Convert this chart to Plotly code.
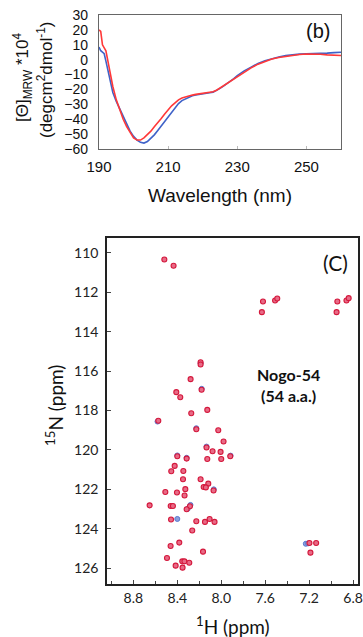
import plotly.graph_objects as go

# ---------------- CD spectra (panel b) ----------------
wl_red = [190, 190.5, 191, 192, 193, 194, 195, 196, 197, 198, 199, 200, 201, 202, 203, 204, 205, 206, 207, 208,
          209, 210, 211, 212, 213, 214, 215, 216, 217, 218, 219, 220, 221, 222, 223, 224, 225, 226, 227, 228,
          229, 230, 232, 234, 236, 238, 240, 242, 244, 246, 248, 250, 252, 254, 256, 258, 260]
cd_red = [20, 19, 10, 6, -6, -18, -27, -34, -40, -45, -49, -52.5, -54, -54, -52.5, -50.5, -48, -45, -42.5, -39.5,
          -36.5, -33.5, -31, -29, -27, -25.8, -25, -24.3, -23.8, -23.3, -23, -22.8, -22.5, -22.2, -21.5, -20.5, -19, -17.5, -16, -14.3,
          -12.7, -11, -8, -5.5, -3, -1, 0.5, 1.5, 2.3, 3, 3.5, 3.8, 3.8, 3.6, 3.2, 3, 2.8]

wl_blue = [190, 190.5, 191, 191.5, 192, 193, 194, 195, 196, 197, 198, 199, 200, 201, 202, 203, 204, 205, 206, 207,
           208, 209, 210, 211, 212, 213, 214, 215, 216, 217, 218, 219, 220, 221, 222, 223, 224, 225, 226, 227,
           228, 229, 230, 232, 234, 236, 238, 240, 242, 244, 246, 248, 250, 252, 254, 256, 258, 260]
cd_blue = [8.5, 6, 5, 4, -1, -12, -22, -28, -33, -38, -43, -48, -51.5, -54, -55.5, -56, -55, -53, -50.5, -47.5,
           -44.5, -41, -38, -35, -32, -29.5, -27.5, -26.3, -25.2, -24.3, -23.7, -23.2, -22.8, -22.5, -22.2, -21.8, -20.8, -19.3, -17.8, -16.2,
           -14.5, -12.7, -10.7, -7.5, -5, -2.5, -0.7, 0.7, 1.8, 2.7, 3.3, 3.7, 4, 4, 4.2, 4.4, 4.7, 5]

cd_yticks = [30, 20, 10, 0, -10, -20, -30, -40, -50, -60]
cd_xticks = [190, 210, 230, 250]

# ---------------- HSQC peaks (panel c) ----------------
red_H = [8.518, 8.434, 7.62, 7.63, 7.51, 7.49, 6.943, 6.95, 6.86, 6.84,
         8.188, 8.188, 8.279, 8.179, 8.409, 8.373, 8.127, 8.273, 8.573,
         8.227, 8.027, 7.979, 8.134, 8.079, 8.006, 7.918, 8.4, 8.315, 8.127, 8.0, 8.424, 8.455, 8.345,
         8.348, 8.188, 8.118, 8.16, 8.14, 8.07, 8.509, 8.403, 8.327, 8.334, 8.652, 8.46, 8.44, 8.285,
         8.315, 8.457, 8.227, 8.148, 8.106, 8.061, 8.264, 8.382, 8.461, 8.166, 8.494, 8.355, 8.335,
         8.291, 8.415, 8.352, 7.197, 7.136, 7.188]
red_N = [110.34, 110.66, 112.47, 113.01, 112.42, 112.32, 112.47, 113.01, 112.42, 112.3,
         115.55, 115.67, 116.41, 116.95, 117.07, 117.33, 117.97, 118.14, 118.52,
         118.95, 119.0, 119.57, 119.88, 120.07, 120.1, 120.32, 120.32, 120.44, 120.46, 120.46, 120.81, 121.08, 121.07,
         121.49, 121.49, 121.71, 121.88, 121.9, 122.06, 122.13, 122.16, 121.99, 122.31, 122.81, 122.84, 122.84, 122.86,
         123.01, 123.53, 123.62, 123.65, 123.5, 123.65, 124.09, 124.7, 124.87, 125.16, 125.48, 125.65, 125.65,
         125.72, 125.87, 125.97, 124.72, 124.72, 125.21]

blue_H = [8.58, 8.227, 8.134, 7.915, 8.40, 8.28, 8.068, 8.178, 8.40, 8.305, 7.23, 7.21, 8.188, 8.315]
blue_N = [118.56, 118.90, 119.83, 120.29, 120.28, 122.79, 122.0, 116.90, 123.50, 122.98, 124.76, 124.74, 115.6, 120.40]

nmr_xticks = [8.8, 8.4, 8.0, 7.6, 7.2, 6.8]
nmr_yticks = [110, 112, 114, 116, 118, 120, 122, 124, 126]

W, H = 363, 637
fig = go.Figure()

fig.add_trace(go.Scatter(x=wl_blue, y=cd_blue, mode="lines", line=dict(color="#3f62c8", width=1.6),
                         xaxis="x", yaxis="y", showlegend=False))
fig.add_trace(go.Scatter(x=wl_red, y=cd_red, mode="lines", line=dict(color="#ff3838", width=1.6),
                         xaxis="x", yaxis="y", showlegend=False))

fig.add_trace(go.Scatter(x=blue_H, y=blue_N, mode="markers",
                         marker=dict(symbol="circle", size=5, color="#8aa0dc", line=dict(color="#5a78d0", width=1)),
                         xaxis="x2", yaxis="y2", showlegend=False))
fig.add_trace(go.Scatter(x=red_H, y=red_N, mode="markers",
                         marker=dict(symbol="circle", size=5, color="#e86a86", line=dict(color="#d4183c", width=1.1)),
                         xaxis="x2", yaxis="y2", showlegend=False))

ARIAL = "Liberation Sans, Arial"
GOTH = "Lato, Liberation Sans"


def ann(text, x, y, family, size, angle=0):
    return dict(text=text, x=x / W, y=1 - y / H, xref="paper", yref="paper",
                xanchor="center", yanchor="middle", textangle=angle, showarrow=False,
                align="center", font=dict(family=family, size=size, color="#111"))


fig.update_layout(
    template="none",
    width=W, height=H,
    margin=dict(l=0, r=0, t=0, b=0),
    paper_bgcolor="white", plot_bgcolor="white",
    xaxis=dict(domain=[99 / W, 341 / W], range=[190, 260], tickvals=cd_xticks, automargin=False,
               showgrid=False, zeroline=False, showline=True, mirror=True, linecolor="#666", linewidth=1.2,
               ticks="inside", ticklen=3, tickcolor="#bbb", ticklabelstandoff=4,
               tickfont=dict(family=ARIAL, size=15, color="#111"), anchor="y"),
    yaxis=dict(domain=[1 - 149 / H, 1 - 15 / H], range=[-60, 30], tickvals=cd_yticks, automargin=False,
               showgrid=False, zeroline=False, showline=True, mirror=True, linecolor="#666", linewidth=1.2,
               ticks="", ticklabelstandoff=7, tickfont=dict(family=ARIAL, size=14, color="#111"), anchor="x"),
    xaxis2=dict(domain=[107 / W, 358 / W], range=[9.04, 6.755], tickvals=nmr_xticks, automargin=False,
                ticktext=[f"{v:.1f}" for v in nmr_xticks],
                showgrid=False, zeroline=False, showline=True, mirror=True, linecolor="#222", linewidth=1.5,
                ticks="inside", ticklen=4, tickcolor="#444",
                minor=dict(dtick=0.2, ticks="inside", ticklen=3, tickcolor="#444"),
                tickfont=dict(family=GOTH, size=14, color="#222"), anchor="y2"),
    yaxis2=dict(domain=[1 - 584 / H, 1 - 238 / H], range=[126.8, 109.25], tickvals=nmr_yticks, automargin=False,
                showgrid=False, zeroline=False, showline=True, mirror=True, linecolor="#222", linewidth=1.5,
                ticks="inside", ticklen=4, tickcolor="#444", ticklabelstandoff=4,
                tickfont=dict(family=GOTH, size=14, color="#222"), anchor="x2"),
    annotations=[
        ann("[Θ]<sub>MRW</sub> *10<sup>4</sup>", 22, 78, ARIAL, 17, angle=-90),
        ann("(degcm<sup>2</sup>dmol<sup>-1</sup>)", 45, 80, ARIAL, 17, angle=-90),
        ann("Wavelength (nm)", 220, 195, ARIAL, 19),
        ann("(b)", 318, 31, ARIAL, 20),
        ann("(C)", 335, 263, GOTH, 21),
        ann("<b>Nogo-54<br>(54 a.a.)</b>", 288, 385, GOTH, 16),
        ann("<sup>15</sup>N (ppm)", 54, 406, GOTH, 19, angle=-90),
        ann("<sup>1</sup>H (ppm)", 233, 625, GOTH, 19),
    ],
)

fig.write_html("out.html")
